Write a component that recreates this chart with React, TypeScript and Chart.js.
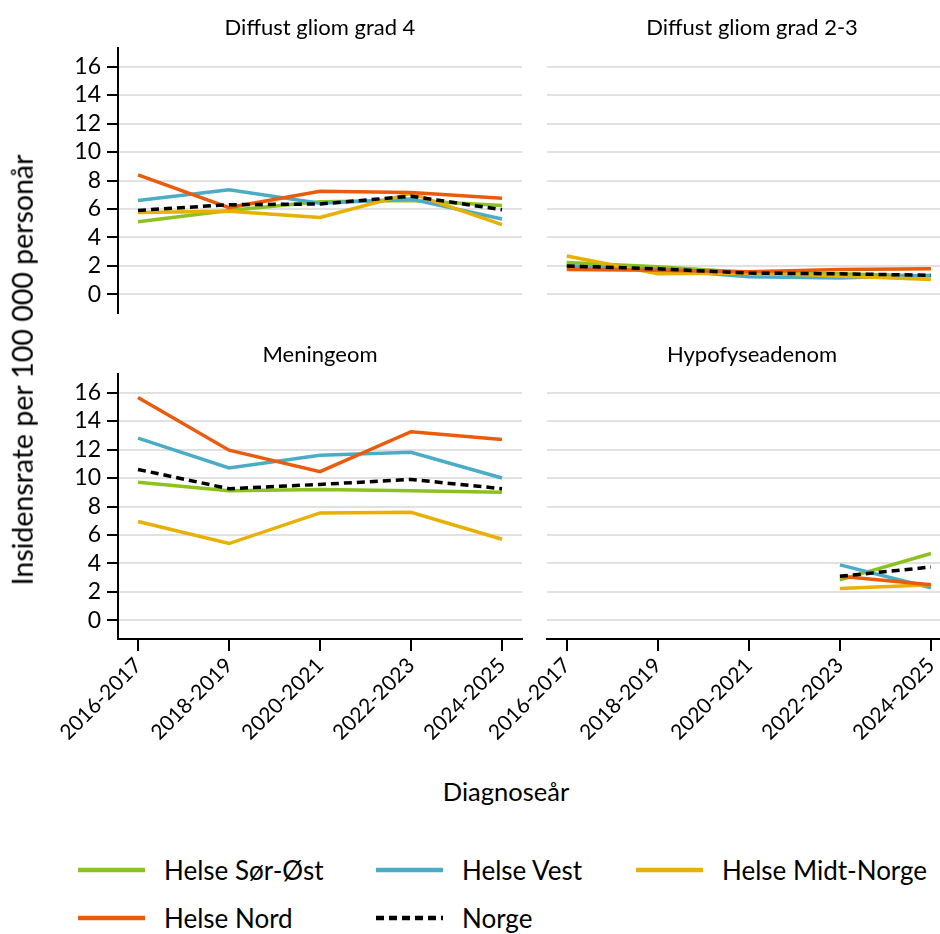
import React, { useEffect, useRef } from 'react';
import { Chart, registerables } from 'chart.js';

Chart.register(...registerables);

// ---------- data ----------
const categories = ['2016-2017', '2018-2019', '2020-2021', '2022-2023', '2024-2025'];
const yTicks = [0, 2, 4, 6, 8, 10, 12, 14, 16];
const seriesNames = ['Helse Sør-Øst', 'Helse Vest', 'Helse Midt-Norge', 'Helse Nord', 'Norge'];
const seriesColors = ['#8CC21F', '#4BACC6', '#E8B000', '#EA5B0C', '#000000'];
const panelTitles = ['Diffust gliom grad 4', 'Diffust gliom grad 2-3', 'Meningeom', 'Hypofyseadenom'];
const yAxisTitle = 'Insidensrate per 100 000 personår';
const xAxisTitle = 'Diagnoseår';

// Diffust gliom grad 4
const g4SorOst = [5.1, 5.9, 6.5, 6.6, 6.25];
const g4Vest = [6.6, 7.35, 6.4, 6.7, 5.3];
const g4Midt = [5.75, 5.85, 5.4, 7.1, 4.9];
const g4Nord = [8.4, 6.1, 7.25, 7.15, 6.75];
const g4Norge = [5.9, 6.3, 6.35, 6.9, 5.95];

// Diffust gliom grad 2-3
const g23SorOst = [2.25, 1.95, 1.55, 1.45, 1.3];
const g23Vest = [2.0, 1.75, 1.25, 1.15, 1.35];
const g23Midt = [2.7, 1.45, 1.5, 1.3, 1.05];
const g23Nord = [1.75, 1.7, 1.6, 1.75, 1.8];
const g23Norge = [2.0, 1.8, 1.5, 1.45, 1.35];

// Meningeom
const menSorOst = [9.7, 9.1, 9.2, 9.1, 9.0];
const menVest = [12.8, 10.7, 11.6, 11.8, 10.0];
const menMidt = [6.95, 5.4, 7.55, 7.6, 5.7];
const menNord = [15.65, 11.95, 10.45, 13.25, 12.7];
const menNorge = [10.6, 9.25, 9.55, 9.9, 9.25];

// Hypofyseadenom
const hypSorOst = [null, null, null, 2.85, 4.7];
const hypVest = [null, null, null, 3.9, 2.3];
const hypMidt = [null, null, null, 2.25, 2.5];
const hypNord = [null, null, null, 3.1, 2.5];
const hypNorge = [null, null, null, 3.1, 3.75];

const FONT = 'Lato, "Open Sans", sans-serif';

type Series = (number | null)[][];

interface PanelProps {
  series: Series;
  showY: boolean;
  showX: boolean;
  left: number;
  top: number;
  width: number;
  height: number;
  yAxisWidth: number;
  xAxisHeight: number;
}

function Panel(p: PanelProps) {
  const ref = useRef<HTMLCanvasElement>(null);
  useEffect(() => {
    const n = p.series.length;
    const chart = new Chart(ref.current as HTMLCanvasElement, {
      type: 'line',
      data: {
        datasets: p.series.map((vals, i) => ({
          label: seriesNames[i],
          data: vals.map((v, j) => ({ x: j, y: v })),
          borderColor: seriesColors[i],
          backgroundColor: seriesColors[i],
          borderWidth: 3.5,
          borderDash: i === 4 ? [8, 5] : [],
          pointRadius: 0,
          tension: 0,
          fill: false,
          spanGaps: false,
          order: n - i,
        })),
      },
      options: {
        responsive: false,
        animation: false,
        layout: { padding: 20 },
        plugins: {
          legend: { display: false },
          tooltip: { enabled: false },
          title: { display: false },
        },
        scales: {
          x: {
            type: 'linear',
            min: -0.22,
            max: 4.22,
            display: p.showX,
            afterBuildTicks: (s: any) => {
              s.ticks = categories.map((_, i) => ({ value: i }));
            },
            afterFit: (s: any) => {
              s.height = p.xAxisHeight;
            },
            ticks: {
              autoSkip: false,
              maxRotation: 45,
              minRotation: 45,
              color: '#000',
              padding: 2,
              font: { family: FONT, size: 21 },
              callback: (v: any) => categories[Math.round(Number(v))] ?? '',
            },
            grid: {
              drawOnChartArea: false,
              drawTicks: true,
              tickLength: 12,
              tickColor: '#000',
              tickWidth: 2,
              lineWidth: 2,
            },
            border: { display: true, color: '#000', width: 2 },
          },
          y: {
            type: 'linear',
            min: -1.3,
            max: 17.3,
            afterBuildTicks: (s: any) => {
              s.ticks = yTicks.map((v) => ({ value: v }));
            },
            afterFit: (s: any) => {
              s.width = p.yAxisWidth;
            },
            ticks: {
              display: p.showY,
              color: '#000',
              padding: 6,
              font: { family: FONT, size: 23 },
            },
            grid: {
              color: '#e1e1e1',
              lineWidth: 2,
              drawTicks: p.showY,
              tickLength: 11,
              tickColor: '#000',
              tickWidth: 2,
            },
            border: { display: p.showY, color: '#000', width: 2 },
          },
        },
      } as any,
    });
    return () => chart.destroy();
  }, []);
  return (
    <canvas
      ref={ref}
      width={p.width}
      height={p.height}
      style={{ position: 'absolute', left: p.left, top: p.top, width: p.width, height: p.height }}
    />
  );
}

const textBase: React.CSSProperties = {
  position: 'absolute',
  fontFamily: FONT,
  color: '#000',
  whiteSpace: 'nowrap',
  lineHeight: 1,
};

function Title({ text, x, y, size }: { text: string; x: number; y: number; size: number }) {
  return (
    <div style={{ ...textBase, left: x, top: y, fontSize: size, transform: 'translate(-50%, -50%)' }}>{text}</div>
  );
}

function LegendItem({ i, x, y }: { i: number; x: number; y: number }) {
  return (
    <div style={{ position: 'absolute', left: x, top: y - 20, height: 40 }}>
      <svg width={70} height={40} style={{ position: 'absolute', left: 0, top: 0 }}>
        <line
          x1={0}
          y1={20}
          x2={67}
          y2={20}
          stroke={seriesColors[i]}
          strokeWidth={4.5}
          strokeDasharray={i === 4 ? '8 5' : undefined}
        />
      </svg>
      <div style={{ ...textBase, left: 86, top: 20, fontSize: 26, transform: 'translateY(-50%)' }}>
        {seriesNames[i]}
      </div>
    </div>
  );
}

export default function App() {
  return (
    <div
      style={{
        position: 'fixed',
        left: 0,
        top: 0,
        width: 940,
        height: 934,
        overflow: 'hidden',
        background: '#fff',
      }}
    >
      <Panel series={[g4SorOst, g4Vest, g4Midt, g4Nord, g4Norge]} showY={true} showX={false}
        left={0} top={28} width={542} height={305} yAxisWidth={98} xAxisHeight={0} />
      <Panel series={[g23SorOst, g23Vest, g23Midt, g23Nord, g23Norge]} showY={false} showX={false}
        left={440} top={28} width={531} height={305} yAxisWidth={86.7} xAxisHeight={0} />
      <Panel series={[menSorOst, menVest, menMidt, menNord, menNorge]} showY={true} showX={true}
        left={0} top={354} width={542} height={415} yAxisWidth={98} xAxisHeight={110} />
      <Panel series={[hypSorOst, hypVest, hypMidt, hypNord, hypNorge]} showY={false} showX={true}
        left={440} top={354} width={531} height={415} yAxisWidth={86.7} xAxisHeight={110} />

      <Title text={panelTitles[0]} x={320} y={27} size={22} />
      <Title text={panelTitles[1]} x={752} y={27} size={22} />
      <Title text={panelTitles[2]} x={320} y={354} size={22} />
      <Title text={panelTitles[3]} x={752} y={354} size={22} />

      <div
        style={{
          ...textBase,
          left: 22,
          top: 370,
          fontSize: 28.5,
          transform: 'translate(-50%, -50%) rotate(-90deg)',
        }}
      >
        {yAxisTitle}
      </div>
      <Title text={xAxisTitle} x={506} y={792} size={25.5} />

      <LegendItem i={0} x={78} y={870} />
      <LegendItem i={1} x={376} y={870} />
      <LegendItem i={2} x={636} y={870} />
      <LegendItem i={3} x={78} y={918} />
      <LegendItem i={4} x={376} y={918} />
    </div>
  );
}
